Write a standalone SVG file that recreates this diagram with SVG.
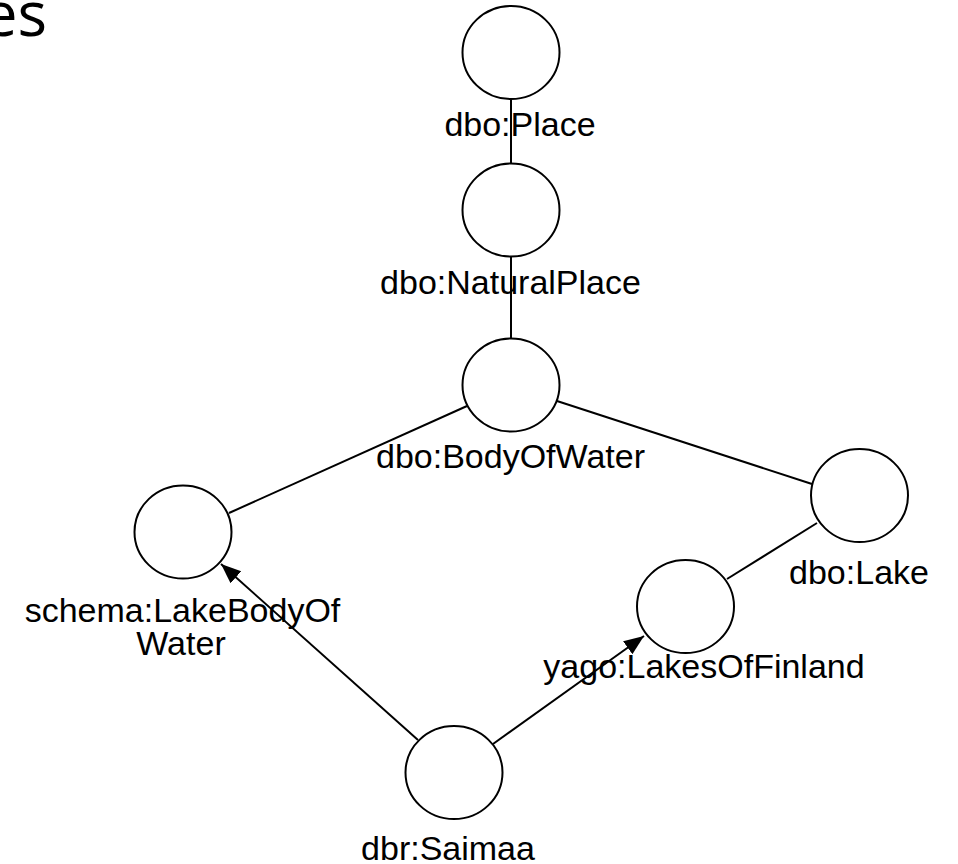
<svg xmlns="http://www.w3.org/2000/svg" width="958" height="864" viewBox="0 0 958 864">
<defs>
<style>
.n{fill:#fff;stroke:#000;stroke-width:2}
.e{stroke:#000;stroke-width:2;fill:none}
.l{font-family:"Liberation Sans",Arial,Helvetica,sans-serif;font-size:34px;fill:#000;text-anchor:middle}
.t{font-family:"Open Sans","Noto Sans",sans-serif;font-size:62px;fill:#000;text-anchor:end}
</style>
<marker id="arr" markerUnits="userSpaceOnUse" markerWidth="22" markerHeight="18" refX="20" refY="8" orient="auto" viewBox="0 0 22 18">
<path d="M0,0 L20,8 L0,16 z" fill="#000"/>
</marker>
</defs>
<rect width="958" height="864" fill="#fff"/>
<text class="t" x="47" y="36">es</text>
<g id="connectors">
<line class="e" x1="511" y1="99" x2="511" y2="163"/>
<line class="e" x1="511" y1="257" x2="511" y2="338"/>
<line class="e" x1="467" y1="406" x2="229" y2="513"/>
<line class="e" x1="557" y1="401" x2="812" y2="484"/>
<line class="e" x1="817" y1="523" x2="727" y2="579"/>
<line class="e" x1="418" y1="740" x2="221" y2="564" marker-end="url(#arr)"/>
<line class="e" x1="493" y1="744" x2="644" y2="636" marker-end="url(#arr)"/>
</g>
<g id="place"><ellipse class="n" cx="511" cy="52.5" rx="48.5" ry="46.5"/><text class="l" x="520" y="136">dbo:Place</text></g>
<g id="naturalplace"><ellipse class="n" cx="511" cy="210" rx="48.5" ry="46.5"/><text class="l" x="510.5" y="294">dbo:NaturalPlace</text></g>
<g id="bodyofwater"><ellipse class="n" cx="511" cy="385" rx="48.5" ry="46.5"/><text class="l" x="510.5" y="468">dbo:BodyOfWater</text></g>
<g id="lakebodyofwater"><ellipse class="n" cx="183" cy="532" rx="48.5" ry="46.5"/><text class="l" x="182.5" y="622">schema:LakeBodyOf</text><text class="l" x="181" y="655">Water</text></g>
<g id="lake"><ellipse class="n" cx="859.5" cy="495.5" rx="48.5" ry="46.5"/><text class="l" x="859" y="584">dbo:Lake</text></g>
<g id="lakesoffinland"><ellipse class="n" cx="685.5" cy="606.5" rx="48.5" ry="46.5"/><text class="l" x="704" y="678">yago:LakesOfFinland</text></g>
<g id="saimaa"><ellipse class="n" cx="454" cy="772.5" rx="48.5" ry="46.5"/><text class="l" x="448" y="860">dbr:Saimaa</text></g>
</svg>
